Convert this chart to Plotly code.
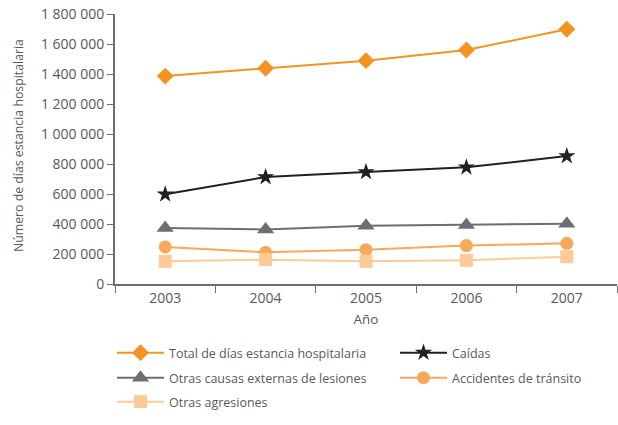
import plotly.graph_objects as go

years = ["2003", "2004", "2005", "2006", "2007"]
total = [1386000, 1438000, 1489000, 1560000, 1698000]
caidas = [598000, 713000, 747000, 778000, 853000]
otras_causas = [373000, 364000, 389000, 393000, 402000]
accidentes = [247000, 211000, 229000, 256000, 271000]
agresiones = [151000, 162000, 151000, 158000, 182000]

y_ticks = [0, 200000, 400000, 600000, 800000, 1000000, 1200000, 1400000, 1600000, 1800000]
y_ticktext = ["0", "200 000", "400 000", "600 000", "800 000", "1 000 000",
              "1 200 000", "1 400 000", "1 600 000", "1 800 000"]

series = [
    ("Total de días estancia hospitalaria", total, "#F39322", "diamond", 13, "legend"),
    ("Caídas", caidas, "#231F20", "star", 13, "legend2"),
    ("Otras causas externas de lesiones", otras_causas, "#6D6E71", "triangle-up", 15, "legend3"),
    ("Accidentes de tránsito", accidentes, "#F6A95B", "circle", 13, "legend4"),
    ("Otras agresiones", agresiones, "#FCCB98", "square", 13, "legend5"),
]

FAM = "Open Sans, Lato, sans-serif"
GREY = "#58595B"
fig = go.Figure()
for name, vals, color, sym, size, lg in series:
    fig.add_trace(go.Scatter(
        x=years, y=vals, name=name, mode="lines+markers",
        line=dict(color=color, width=2),
        marker=dict(symbol=sym, size=size, color=color, line=dict(width=0)),
        legend=lg,
    ))

def leg(xpx, ypx):
    return dict(orientation="v", xref="container", yref="container",
                x=xpx / 618, y=1 - ypx / 425, xanchor="left", yanchor="middle",
                font=dict(family=FAM, color=GREY, size=12.5),
                bgcolor="rgba(0,0,0,0)", itemwidth=47)

fig.update_layout(
    width=618, height=425,
    margin=dict(l=115, r=1, t=14, b=141, autoexpand=False),
    paper_bgcolor="white", plot_bgcolor="white",
    font=dict(family=FAM, color=GREY, size=14),
    showlegend=True,
    legend=leg(112, 353),
    legend2=leg(395, 353),
    legend3=leg(112, 378),
    legend4=leg(395, 378),
    legend5=leg(112, 402),
    xaxis=dict(
        type="category", range=[-0.5, 4.5], showline=True, linecolor="#6D6E71", linewidth=2,
        ticks="outside", tickson="boundaries", ticklen=7, tickcolor="#6D6E71", tickwidth=1,
        showgrid=False, zeroline=False,
        title=dict(text="Año", standoff=9, font=dict(size=13.5)),
    ),
    yaxis=dict(
        range=[0, 1800000], tickvals=y_ticks, ticktext=y_ticktext,
        showline=True, linecolor="#6D6E71", linewidth=2,
        ticks="outside", ticklen=6, tickcolor="#6D6E71", tickwidth=1,
        showgrid=False, zeroline=False,
    ),
    annotations=[dict(
        text="Número de días estancia hospitalaria", textangle=-90,
        xref="paper", yref="paper", x=(18 - 115) / 502, y=(284 - 146) / 270,
        xanchor="center", yanchor="middle", showarrow=False,
        font=dict(family=FAM, color=GREY, size=12.3),
    )],
)

fig.write_html("out.html", config={"displayModeBar": False},
               post_script="document.body.style.margin='0';")
